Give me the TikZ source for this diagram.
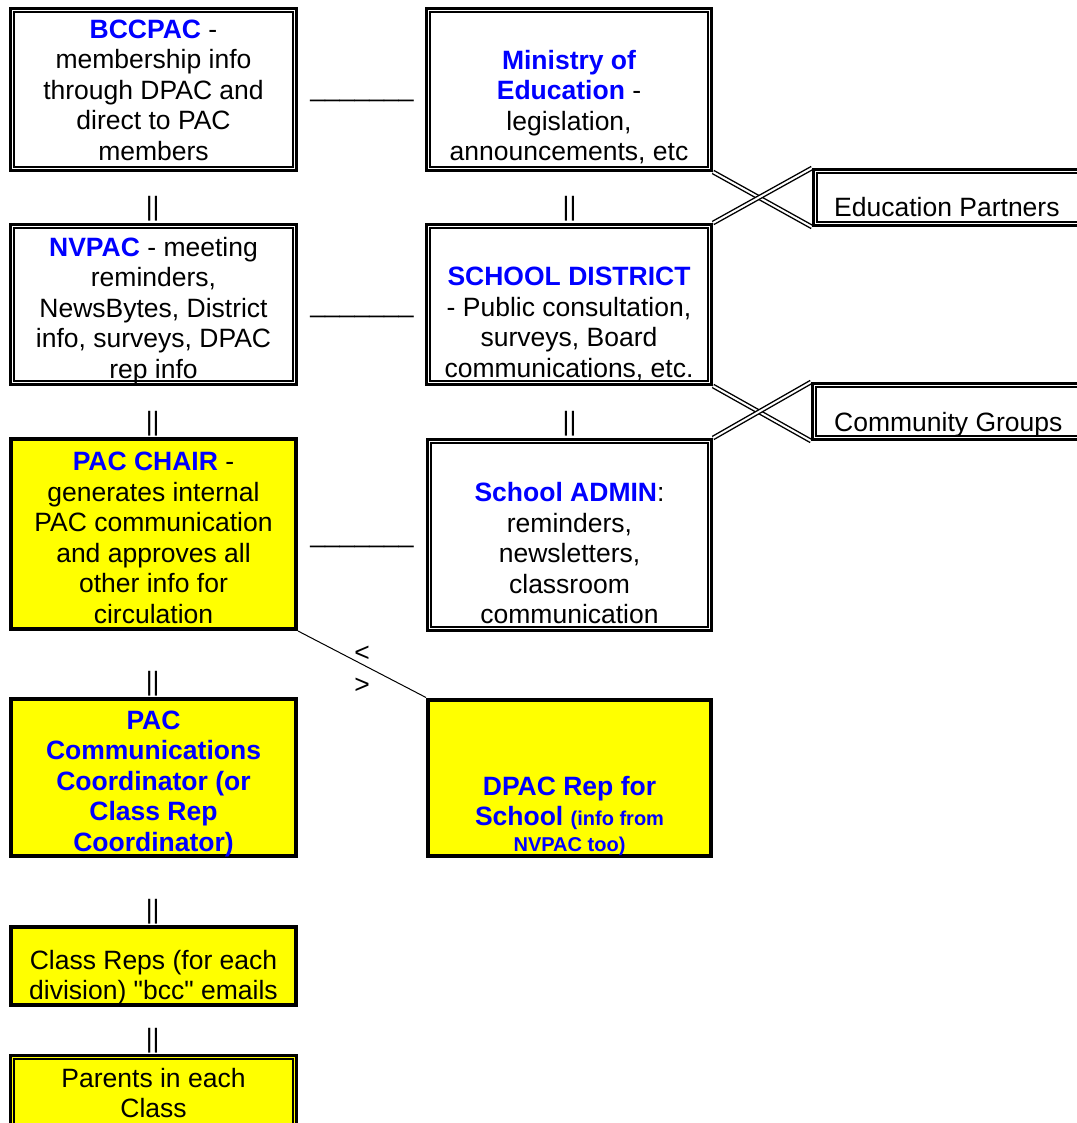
\documentclass[tikz,border=0pt]{standalone}
\usepackage{fontspec}
\setmainfont{Liberation Sans}
\usetikzlibrary{backgrounds}
\definecolor{ablue}{RGB}{0,0,255}
\definecolor{ayel}{RGB}{255,255,0}
\newcommand\hb[1]{\textcolor{ablue}{\bfseries #1}}
\begin{document}
\begin{tikzpicture}[x=1pt,y=-1pt,
  dbox/.style={draw, fill=white, line width=2.7pt, rectangle, inner sep=0pt,
    path picture={\draw[line width=1.3pt]
      ([xshift=3.7pt,yshift=3.7pt]path picture bounding box.south west) rectangle
      ([xshift=-3.7pt,yshift=-3.7pt]path picture bounding box.north east);}},
  tbox/.style={draw, fill=ayel, line width=4pt, rectangle, inner sep=0pt},
  txt/.style={inner sep=0pt, align=center, font=\fontsize{26.5}{30.5}\selectfont,
    execute at begin node=\strut, execute at end node=\strut},
  txtb/.style={txt, text=ablue, font=\fontsize{26.5}{30.5}\selectfont\bfseries},
  glyph/.style={inner sep=0pt, font=\fontsize{26.5}{30.5}\selectfont},
  dline/.style={draw, double, double distance=2pt, line width=1.4pt},
  sline/.style={draw, line width=1pt}
]
\useasboundingbox (0,0) rectangle (1076,1123);

% boxes, column 1
\node[dbox, minimum width=286.3pt, minimum height=162.3pt] (bcc) at (153.5,89.5) {};
\node[dbox, minimum width=286.3pt, minimum height=160.3pt] (nv) at (153.5,304.5) {};
\node[tbox, minimum width=285pt, minimum height=190pt] (chair) at (153.5,534) {};
\node[tbox, minimum width=285pt, minimum height=157pt] (comm) at (153.5,777.5) {};
\node[tbox, minimum width=285pt, minimum height=77.5pt] (reps) at (153.5,965.75) {};
\node[dbox, fill=ayel, minimum width=286.3pt, minimum height=83.3pt] (par) at (153.5,1097) {};

% boxes, column 2
\node[dbox, minimum width=285.3pt, minimum height=162.3pt] (min) at (569,89.5) {};
\node[dbox, minimum width=285.3pt, minimum height=160.3pt] (sd) at (569,304.5) {};
\node[dbox, minimum width=284.3pt, minimum height=191.3pt] (adm) at (569.5,535) {};
\node[tbox, minimum width=283pt, minimum height=156.5pt] (dpac) at (569.5,777.75) {};

% boxes, column 3
\node[dbox, minimum width=275.3pt, minimum height=56.3pt] (edu) at (951,197.5) {};
\node[dbox, minimum width=276.3pt, minimum height=56.3pt] (com) at (950.5,411.5) {};

% connectors
\begin{scope}[on background layer]
\draw[dline] (min.south east) -- (edu.south west);
\draw[dline] (sd.north east) -- (edu.north west);
\draw[dline] (sd.south east) -- (com.south west);
\draw[dline] (adm.north east) -- (com.north west);
\draw[sline] (chair.south east) -- (dpac.north west);
\end{scope}

% texts
\node[txt] (bcct) at (153.5,94.8) {\hb{BCCPAC} -\\membership info\\through DPAC and\\direct to PAC\\members};
\node[txt] (nvt) at (153.5,312) {\hb{NVPAC} - meeting\\reminders,\\NewsBytes, District\\info, surveys, DPAC\\rep info};
\node[txt] (chairt) at (153.5,542.5) {\hb{PAC CHAIR} -\\generates internal\\PAC communication\\and approves all\\other info for\\circulation};
\node[txtb] (commt) at (153.5,785.5) {PAC\\Communications\\Coordinator (or\\Class Rep\\Coordinator)};
\node[txt] (repst) at (153.5,979.5) {Class Reps (for each\\division) \textquotedbl bcc\textquotedbl{} emails};
\node[txt] (part) at (153.5,1097.5) {Parents in each\\Class};

\node[txt] (mint) at (569,109.9) {\hb{Ministry of}\\\hb{Education} -\\legislation,\\announcements, etc};
\node[txt] (sdt) at (569,327) {\hb{SCHOOL DISTRICT}\\- Public consultation,\\surveys, Board\\communications, etc.};
\node[txt] (admt) at (569.5,557.5) {\hb{School ADMIN}:\\reminders,\\newsletters,\\classroom\\communication};
\node[txtb] (dpact) at (569.5,818.5) {DPAC Rep for\\School {\fontsize{20}{26}\selectfont (info from}\\[-4.5pt]{\fontsize{20}{26}\selectfont NVPAC too)}};

\node[txt, anchor=west] (edut) at (834,210.5) {Education Partners};
\node[txt, anchor=west] (comt) at (834,425.6) {Community Groups};

% text links
\node[glyph, anchor=base] (u1) at (362,97) {\_\_\_\_\_\_\_};
\node[glyph, anchor=base] (u2) at (362,312) {\_\_\_\_\_\_\_};
\node[glyph, anchor=base] (u3) at (362,542) {\_\_\_\_\_\_\_};

\node[glyph] (v1) at (152.7,209) {||};
\node[glyph] (v2) at (569.5,209) {||};
\node[glyph] (v3) at (152.7,424) {||};
\node[glyph] (v4) at (569.5,424) {||};
\node[glyph] (v5) at (152.7,684) {||};
\node[glyph] (v6) at (152.7,912) {||};
\node[glyph] (v7) at (152.7,1041) {||};

\node[glyph] (lt) at (362,654) {<};
\node[glyph] (gt) at (362,686) {>};
\end{tikzpicture}
\end{document}
